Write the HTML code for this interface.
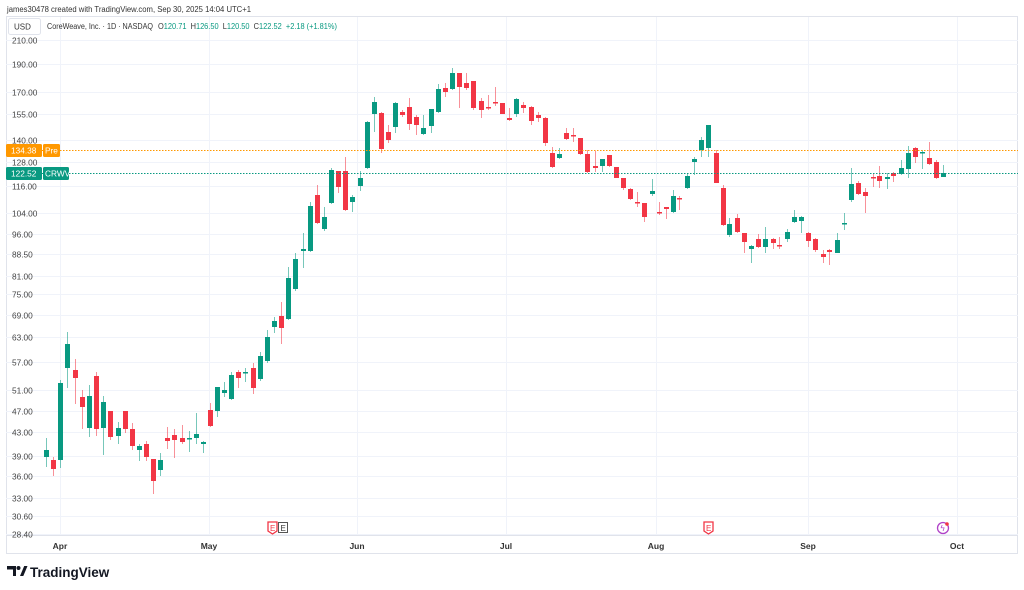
<!DOCTYPE html>
<html><head><meta charset="utf-8"><style>
body{margin:0;width:1024px;height:590px;background:#fff;overflow:hidden;font-family:"Liberation Sans",sans-serif;}
</style></head><body>
<svg width="1024" height="590" xmlns="http://www.w3.org/2000/svg" style="position:absolute;left:0;top:0" font-family="Liberation Sans, sans-serif">
<text x="7" y="12" font-size="8" fill="#333" textLength="244" lengthAdjust="spacingAndGlyphs">james30478 created with TradingView.com, Sep 30, 2025 14:04 UTC+1</text>
<rect x="6.5" y="16.5" width="1011" height="537" fill="#fff" stroke="#e0e3eb"/>
<line x1="6" y1="535.5" x2="1018" y2="535.5" stroke="#e0e3eb"/>
<g id="grid" stroke="#f0f3fa" stroke-width="1"></g>
<g id="c"></g>
<line x1="6" y1="150.5" x2="1018" y2="150.5" stroke="#ff9800" stroke-dasharray="1.5,1.5"/>
<line x1="6" y1="173.5" x2="1018" y2="173.5" stroke="#089981" stroke-dasharray="1.5,1.5"/>
<g id="yl" font-size="8.3" fill="#444"></g>
<rect x="8.5" y="18.5" width="32" height="16" rx="2" fill="#fff" stroke="#e0e3eb"/>
<text x="14" y="29.5" font-size="8" fill="#333">USD</text>
<text x="47" y="29" font-size="8" fill="#333" textLength="106" lengthAdjust="spacingAndGlyphs">CoreWeave, Inc. · 1D · NASDAQ</text>
<text x="158" y="29" font-size="8" fill="#333" xml:space="preserve" textLength="179" lengthAdjust="spacingAndGlyphs">O<tspan fill="#089981">120.71</tspan>  H<tspan fill="#089981">126.50</tspan>  L<tspan fill="#089981">120.50</tspan>  C<tspan fill="#089981">122.52</tspan>  <tspan fill="#089981">+2.18 (+1.81%)</tspan></text>
<rect x="6" y="144" width="36" height="13" rx="1.5" fill="#ff9800"/>
<text x="11" y="153.5" font-size="8.3" fill="#fff">134.38</text>
<rect x="43" y="144" width="17" height="13" rx="1.5" fill="#ff9800"/>
<text x="45" y="153.5" font-size="8.3" fill="#fff">Pre</text>
<rect x="6" y="167" width="36" height="13" rx="1.5" fill="#089981"/>
<text x="11" y="176.5" font-size="8.3" fill="#fff">122.52</text>
<rect x="43" y="167" width="26" height="13" rx="1.5" fill="#089981"/>
<text x="45" y="176.5" font-size="8.3" fill="#fff">CRWV</text>
<g font-size="8.5" font-weight="bold" fill="#333" text-anchor="middle">
<text x="60" y="549">Apr</text><text x="209" y="549">May</text><text x="357" y="549">Jun</text><text x="506" y="549">Jul</text><text x="656" y="549">Aug</text><text x="808" y="549">Sep</text><text x="957" y="549">Oct</text>
</g>
<path d="M268 522h9v9l-4.5 3l-4.5-3z" fill="#fff" stroke="#f23645" stroke-width="1.3"/>
<text x="270" y="531" font-size="8" fill="#f23645">E</text>
<rect x="278.5" y="522.5" width="9" height="10" fill="#fff" stroke="#555"/>
<text x="280.5" y="531" font-size="8" fill="#333">E</text>
<path d="M704 522h9v9l-4.5 3l-4.5-3z" fill="#fff" stroke="#f23645" stroke-width="1.3"/>
<text x="706" y="531" font-size="8" fill="#f23645">E</text>
<circle cx="943" cy="528" r="5.5" fill="#fff" stroke="#b042c8" stroke-width="1.3"/>
<text x="940.5" y="531" font-size="8" fill="#b042c8">ϟ</text>
<circle cx="947" cy="524" r="1.8" fill="#f23645"/>
<g transform="translate(7,566)" fill="#131722">
<path d="M0 0h9v10h-3v-6.5h-6z"/><circle cx="11.5" cy="2" r="2"/><path d="M13 10l4.2-10h3.3l-4.2 10z"/>
</g>
<text x="30" y="577" font-size="13.5" font-weight="bold" fill="#131722">TradingView</text>
</svg>
<script>
var ns="http://www.w3.org/2000/svg";
function el(p,t,a){var e=document.createElementNS(ns,t);for(var k in a)e.setAttribute(k,a[k]);p.appendChild(e);return e;}
var yv=[["210.00",40],["190.00",64],["170.00",92],["155.00",114],["140.00",140],["128.00",162],["116.00",186],["104.00",213],["96.00",234],["88.50",254],["81.00",276],["75.00",294],["69.00",315],["63.00",337],["57.00",362],["51.00",390],["47.00",411],["43.00",432],["39.00",456],["36.00",476],["33.00",498],["30.60",516],["28.40",534]];
var g=document.getElementById("grid"),yl=document.getElementById("yl");
yv.forEach(function(v){el(g,"line",{x1:6,x2:1018,y1:v[1]+.5,y2:v[1]+.5});var t=el(yl,"text",{x:12,y:v[1]+3.5});t.textContent=v[0];});
[60,209,357,506,656,808,957].forEach(function(x){el(g,"line",{x1:x+.5,x2:x+.5,y1:17,y2:535});});
var d=[[46,450,457,438,467,1],[53,460,469,457,476,0],[60,383,460,380,468,1],[67,344,368,332,388,1],[75,370,378,359,404,0],[82,397,407,390,429,0],[89,396,428,385,437,1],[96,376,429,372,436,0],[103,402,428,396,455,1],[110,411,437,411,440,0],[118,428,436,422,444,1],[125,411,429,411,433,0],[132,429,446,423,450,0],[139,446,450,444,461,1],[146,444,457,441,461,0],[153,459,481,459,494,0],[160,460,470,453,476,1],[167,438,441,427,449,0],[174,435,440,429,458,0],[182,438,442,425,444,0],[189,438,439,431,452,1],[196,434,438,413,444,1],[203,442,444,441,453,1],[210,410,426,403,427,0],[217,387,411,387,417,1],[224,390,393,382,397,1],[231,375,399,372,400,1],[238,372,378,370,388,0],[245,372,373,368,382,1],[253,368,388,363,394,0],[260,356,379,352,381,1],[267,337,361,330,363,1],[274,321,327,317,333,1],[281,316,328,302,344,0],[288,278,319,267,320,1],[295,259,289,253,291,1],[303,249,251,233,268,1],[310,206,251,202,252,1],[317,195,223,185,224,0],[324,217,229,207,231,1],[331,170,203,168,204,1],[338,171,187,171,193,0],[345,171,210,157,211,0],[352,197,202,195,212,1],[360,178,186,171,191,1],[367,122,168,121,169,1],[374,102,114,97,132,1],[381,113,149,112,153,0],[388,132,140,125,143,0],[395,103,127,102,133,1],[402,112,115,110,117,0],[409,107,124,98,130,0],[416,117,125,115,135,0],[423,128,134,115,135,1],[431,109,126,109,133,1],[438,89,112,84,113,1],[445,88,92,83,97,0],[452,73,89,68,90,1],[459,73,87,73,108,0],[466,83,88,73,90,0],[473,81,108,81,110,0],[481,101,110,98,118,0],[488,107,108,95,110,0],[495,102,103,87,106,0],[502,103,114,103,114,0],[509,118,120,108,121,0],[516,99,114,98,117,1],[523,105,108,102,113,0],[531,107,121,106,125,0],[538,115,118,112,122,0],[545,118,143,117,146,0],[552,153,167,147,168,0],[559,154,158,148,159,1],[566,133,139,128,140,0],[573,135,136,128,142,0],[580,138,154,138,155,0],[587,154,172,150,173,0],[595,166,168,151,172,0],[602,159,166,159,172,1],[609,155,166,155,167,0],[616,167,178,167,178,0],[623,178,188,178,190,0],[630,189,199,188,200,0],[637,202,203,192,207,0],[644,203,217,203,222,0],[652,191,194,179,196,1],[659,212,213,202,215,0],[666,207,209,207,219,0],[673,196,212,190,213,1],[679,198,199,196,210,0],[687,176,188,173,189,1],[694,159,162,157,175,1],[701,140,150,137,157,1],[708,125,148,125,157,1],[716,153,183,150,183,0],[723,188,225,185,226,0],[729,224,235,218,237,1],[737,218,232,214,233,0],[744,233,242,233,253,0],[751,246,249,245,263,1],[758,239,247,234,248,0],[765,239,247,227,253,1],[773,239,243,238,249,0],[779,245,246,237,249,0],[787,232,239,229,242,1],[794,217,222,210,223,1],[801,217,221,216,233,1],[808,233,241,232,247,0],[815,239,250,238,252,0],[823,254,257,250,263,0],[829,250,252,249,265,0],[837,240,253,233,253,1],[844,223,224,213,230,1],[851,184,200,168,202,1],[858,183,194,181,195,0],[865,192,196,188,213,0],[873,177,178,173,187,0],[879,176,181,166,188,0],[887,177,179,173,189,1],[893,173,176,172,182,0],[901,168,174,160,175,1],[908,153,169,146,178,1],[915,148,157,147,163,0],[922,152,153,150,169,1],[929,158,164,142,165,0],[936,162,178,160,179,0],[943,173,177,165,177,1]];
var c=document.getElementById("c");
d.forEach(function(a){var col=a[5]?"#089981":"#f23645";
el(c,"line",{x1:a[0]+.5,x2:a[0]+.5,y1:a[3],y2:a[4],stroke:col,"stroke-opacity":.55});
el(c,"rect",{x:a[0]-2,y:a[1],width:5,height:Math.max(1.5,a[2]-a[1]),fill:col});});
</script>
</body></html>
